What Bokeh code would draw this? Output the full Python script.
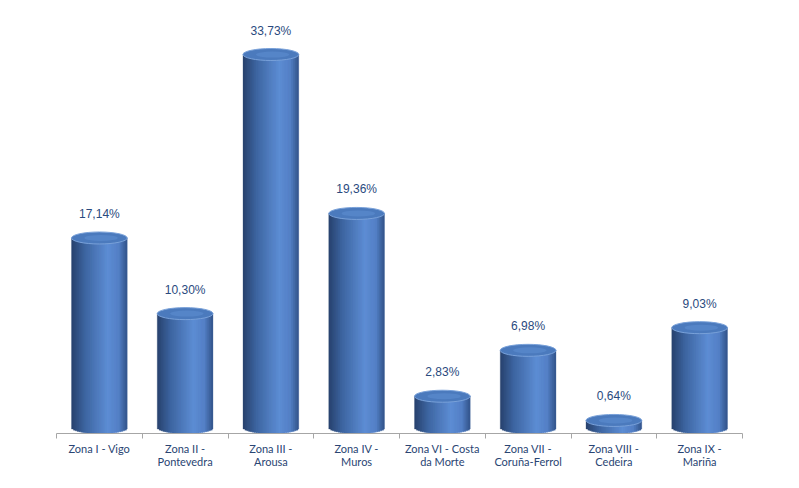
from bokeh.plotting import figure
from bokeh.models import Range1d, FixedTicker
from bokeh.core.properties import value
from bokeh.embed import file_html
from bokeh.resources import INLINE
import math

zones = ["Zona I - Vigo", "Zona II -\nPontevedra", "Zona III -\nArousa", "Zona IV -\nMuros",
         "Zona VI - Costa\nda Morte", "Zona VII -\nCoruña-Ferrol", "Zona VIII -\nCedeira", "Zona IX -\nMariña"]
shares = [17.14, 10.30, 33.73, 19.36, 2.83, 6.98, 0.64, 9.03]
share_labels = [f"{v:.2f}".replace(".", ",") + "%" for v in shares]

FRAME_W, FRAME_H = 686, 425
Y0, Y1 = -0.54, 37.89
px_per_unit = FRAME_H / (Y1 - Y0)

p = figure(width=785, height=480, frame_width=FRAME_W, frame_height=FRAME_H,
           x_range=Range1d(-0.5, len(zones) - 0.5), y_range=Range1d(Y0, Y1),
           output_backend="svg", toolbar_location=None,
           min_border_left=56, min_border_top=8, min_border_right=40, min_border_bottom=0,
           background_fill_color="white", border_fill_color="white")
p.outline_line_color = None
p.grid.visible = False
p.yaxis.visible = False

xs = list(range(len(zones)))
hw = 0.325
eh = 6 / px_per_unit  # half-height of the ellipse in data units
K = 30

stops = [(-1.0, (40, 66, 110)), (-0.5, (62, 102, 162)), (0.3, (93, 141, 212)),
         (0.7, (84, 128, 198)), (1.0, (50, 84, 138))]

def shade(t):
    for (t0, c0), (t1, c1) in zip(stops[:-1], stops[1:]):
        if t0 <= t <= t1:
            f = (t - t0) / (t1 - t0)
            return "#%02x%02x%02x" % tuple(int(round(a + (b - a) * f)) for a, b in zip(c0, c1))
    return "#%02x%02x%02x" % stops[-1][1]

L, R, B, T, C = [], [], [], [], []
step = 2 * hw / K
for x, v in zip(xs, shares):
    for k in range(K):
        t = -1 + (2 * k + 1) / K
        left = x - hw + step * k
        right = left + step
        if k < K - 1:
            right += step * 0.6
        L.append(left)
        R.append(right)
        B.append(-eh * math.sqrt(max(0.0, 1 - t * t)))
        T.append(v)
        C.append(shade(t))
p.quad(left=L, right=R, bottom=B, top=T, fill_color=C, line_color=C, line_width=0.3)

# top faces
p.ellipse(x=xs, y=shares, width=2 * hw, height=12, height_units="screen",
          fill_color="#4b7abd", line_color="#79a1d9", line_width=1)
p.ellipse(x=[x + 0.02 for x in xs], y=shares, width=1.2 * hw, height=6, height_units="screen",
          fill_color="#5f8fd3", fill_alpha=0.5, line_color=None)

# data labels
p.text(x=xs, y=[v + 24 / px_per_unit for v in shares], text=share_labels,
       text_align="center", text_baseline="middle", text_font=value("Liberation Sans"),
       text_font_size="12px", text_color="#2a4a7e")

ax = p.xaxis[0]
ax.ticker = FixedTicker(ticks=xs, minor_ticks=[x - 0.5 for x in xs] + [len(xs) - 0.5])
ax.major_label_overrides = {i: z for i, z in enumerate(zones)}
ax.major_tick_line_color = None
ax.major_tick_out = 5
ax.major_tick_in = 0
ax.minor_tick_out = 5
ax.minor_tick_in = 0
ax.minor_tick_line_color = "#a6a6a6"
ax.axis_line_color = "#a6a6a6"
ax.major_label_standoff = 3
ax.major_label_text_font = "Lato"
ax.major_label_text_font_size = "11px"
ax.major_label_text_line_height = 1.0
ax.major_label_text_color = "#2a4573"

open("out.html", "w").write(file_html(p, INLINE))
